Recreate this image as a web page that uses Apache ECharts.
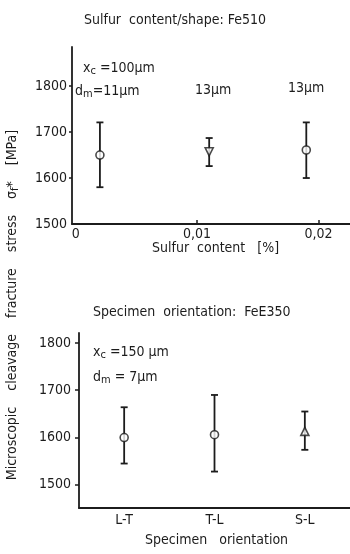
<!DOCTYPE html>
<html><head><meta charset="utf-8">
<script src="https://cdn.jsdelivr.net/npm/echarts@6/dist/echarts.min.js"></script>
<style>html,body{margin:0;padding:0;background:#fff}#c{width:350px;height:554px}</style>
</head><body><div id="c"></div>
<script>
// Top panel: sulfur content (Fe510)
const sulfurX = [0.002, 0.011, 0.019];
const sulfurMean = [1650, 1657, 1661];
const sulfurLow = [1580, 1626, 1600];
const sulfurHigh = [1721, 1687, 1721];
const sulfurSymbols = ['circle', 'triangle', 'circle'];
const sulfurRotate = [0, 180, 0];
const sulfurXTicks = [0, 0.01, 0.02];
const sulfurYTicks = [1500, 1600, 1700, 1800];

// Bottom panel: specimen orientation (FeE350)
const orientCats = ['L-T', 'T-L', 'S-L'];
const orientMean = [1600, 1606, 1613];
const orientLow = [1545, 1528, 1574];
const orientHigh = [1664, 1690, 1655];
const orientSymbols = ['circle', 'circle', 'triangle'];
const orientYTicks = [1500, 1600, 1700, 1800];

const INK = '#1c1c1c';
const FONT = "'Liberation Sans Narrow','DejaVu Sans Condensed','Roboto Condensed',sans-serif";
const FS = 14;

function errRender(params, api) {
  const x = api.value(0), lo = api.value(1), hi = api.value(2);
  const a = api.coord([x, hi]), b = api.coord([x, lo]);
  const w = 3.5;
  const st = {stroke: INK, lineWidth: 1.8};
  return {type: 'group', children: [
    {type: 'line', shape: {x1: a[0], y1: a[1], x2: b[0], y2: b[1]}, style: st},
    {type: 'line', shape: {x1: a[0]-w, y1: a[1], x2: a[0]+w, y2: a[1]}, style: st},
    {type: 'line', shape: {x1: b[0]-w, y1: b[1], x2: b[0]+w, y2: b[1]}, style: st}
  ]};
}

const chart = echarts.init(document.getElementById('c'));
const axisLine = {show: true, onZero: false, lineStyle: {color: INK, width: 1.8}};
const lab = {color: INK, fontFamily: FONT, fontSize: FS};
const rich = {
  t: {fontFamily: FONT, fontSize: FS, color: INK},
  sub: {fontFamily: FONT, fontSize: 11, color: INK, verticalAlign: 'bottom', padding: [7, 0, 0, 0]}
};
function txt(left, top, text, extra) {
  return Object.assign({type: 'text', left: left, top: top,
    style: {text: text, fill: INK, font: FS + 'px ' + FONT, rich: rich}}, extra || {});
}

chart.setOption({
  animation: false,
  backgroundColor: '#fff',
  grid: [
    {left: 72, top: 47, width: 278, height: 177},
    {left: 79, top: 333, width: 294, height: 175}
  ],
  xAxis: [
    {type: 'value', gridIndex: 0, min: -0.0003, max: 0.0226,
     axisLine: axisLine, splitLine: {show: false},
     axisTick: {show: true, inside: true, length: 4, lineStyle: {color: INK, width: 1.5}, customValues: [0.01, 0.02]},
     axisLabel: Object.assign({}, lab, {margin: 3, customValues: sulfurXTicks,
       formatter: v => v === 0 ? '0' : v.toFixed(2).replace('.', ',')})},
    {type: 'category', gridIndex: 1, data: orientCats, boundaryGap: true,
     axisLine: axisLine, axisTick: {show: false},
     axisLabel: Object.assign({}, lab, {margin: 5})}
  ],
  yAxis: [
    {type: 'value', gridIndex: 0, min: 1500, max: 1885,
     axisLine: axisLine, splitLine: {show: false},
     axisTick: {show: true, length: 3, lineStyle: {color: INK, width: 1.5}, customValues: [1600, 1700, 1800]},
     axisLabel: Object.assign({}, lab, {margin: 5, customValues: sulfurYTicks, formatter: v => String(v)})},
    {type: 'value', gridIndex: 1, min: 1451, max: 1821,
     axisLine: axisLine, splitLine: {show: false},
     axisTick: {show: true, length: 4, lineStyle: {color: INK, width: 1.5}, customValues: orientYTicks},
     axisLabel: Object.assign({}, lab, {margin: 8, customValues: orientYTicks, formatter: v => String(v)})}
  ],
  series: [
    {type: 'custom', xAxisIndex: 0, yAxisIndex: 0, renderItem: errRender, z: 2,
     data: sulfurX.map((x, i) => [x, sulfurLow[i], sulfurHigh[i]])},
    {type: 'scatter', xAxisIndex: 0, yAxisIndex: 0, z: 3, symbolSize: 8,
     itemStyle: {color: '#fff', borderColor: INK, borderWidth: 1.6},
     data: sulfurX.map((x, i) => ({value: [x, sulfurMean[i]], symbol: sulfurSymbols[i], symbolRotate: sulfurRotate[i]}))},
    {type: 'custom', xAxisIndex: 1, yAxisIndex: 1, renderItem: errRender, z: 2,
     data: orientCats.map((c, i) => [i, orientLow[i], orientHigh[i]])},
    {type: 'scatter', xAxisIndex: 1, yAxisIndex: 1, z: 3, symbolSize: 8,
     itemStyle: {color: '#fff', borderColor: INK, borderWidth: 1.6},
     data: orientCats.map((c, i) => ({value: [i, orientMean[i]], symbol: orientSymbols[i]}))}
  ],
  graphic: [
    txt('center', 13, 'Sulfur  content/shape: Fe510'),
    txt(83, 61, '{t|x}{sub|c}{t| =100µm}'),
    txt(75, 84, '{t|d}{sub|m}{t|=11µm}'),
    txt(195, 83, '13µm'),
    txt(288, 81, '13µm'),
    txt(152, 241, 'Sulfur  content   [%]'),
    txt(93, 305, 'Specimen  orientation:  FeE350'),
    txt(93, 345, '{t|x}{sub|c}{t| =150 µm}'),
    txt(93, 370, '{t|d}{sub|m}{t| = 7µm}'),
    txt(145, 533, 'Specimen   orientation'),
    {type: 'text', x: 12, y: 305, rotation: Math.PI / 2,
     style: {text: 'Microscopic    cleavage    fracture    stress    σ{sub|f}{t|*}    [MPa]',
       fill: INK, font: FS + 'px ' + FONT, align: 'center', verticalAlign: 'middle', rich: rich}}
  ]
});
</script></body></html>
